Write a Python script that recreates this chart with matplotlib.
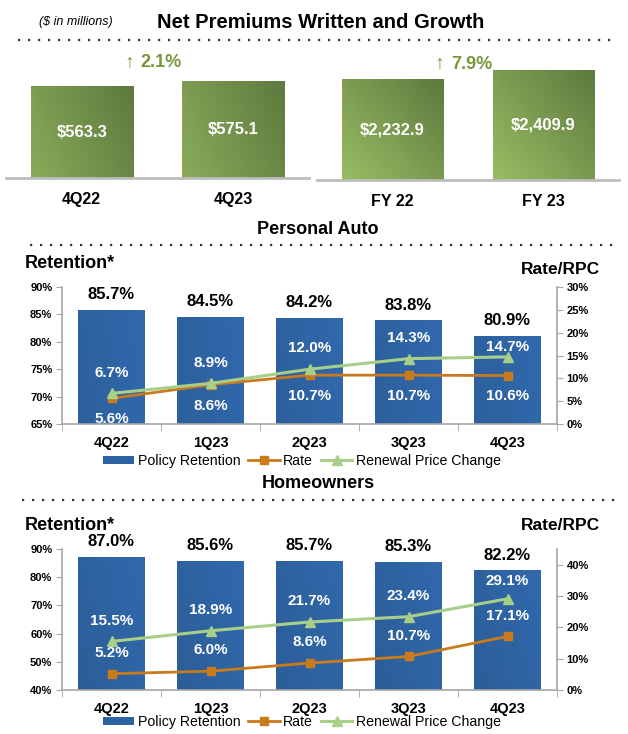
import matplotlib

matplotlib.use("Agg")
import matplotlib.pyplot as plt
import numpy as np
from matplotlib.colors import LinearSegmentedColormap
from matplotlib.lines import Line2D
from matplotlib.patches import Patch
from matplotlib.ticker import FuncFormatter, MultipleLocator

plt.rcParams["font.family"] = ["Liberation Sans", "DejaVu Sans"]

# net premiums written ($ in millions)
npw_quarter_labels = ["4Q22", "4Q23"]
npw_quarter_values = [563.3, 575.1]
npw_quarter_growth = "2.1%"
npw_year_labels = ["FY 22", "FY 23"]
npw_year_values = [2232.9, 2409.9]
npw_year_growth = "7.9%"

# segment metrics (%)
periods = ["4Q22", "1Q23", "2Q23", "3Q23", "4Q23"]
auto_retention = [85.7, 84.5, 84.2, 83.8, 80.9]
auto_rate = [5.6, 8.6, 10.7, 10.7, 10.6]
auto_rpc = [6.7, 8.9, 12.0, 14.3, 14.7]
home_retention = [87.0, 85.6, 85.7, 85.3, 82.2]
home_rate = [5.2, 6.0, 8.6, 10.7, 17.1]
home_rpc = [15.5, 18.9, 21.7, 23.4, 29.1]

BLUE = "#2e63a3"
ORANGE = "#c97a1c"
LIGHT_GREEN = "#a8cf8a"
OLIVE = "#76983a"
GRAY = "#a6a6a6"

W, H = 628, 734
DPI = 100


def fxy(px, py):
    return px / W, 1 - py / H


def px_box(x0, y0, x1, y1):
    return [x0 / W, 1 - y1 / H, (x1 - x0) / W, (y1 - y0) / H]


def gradient_fill(ax, bars, c_low, c_high):
    # bottom-left -> top-right diagonal gradient
    cmap = LinearSegmentedColormap.from_list("grad", [c_low, c_high])
    grad = np.add.outer(np.linspace(1, 0, 64), np.linspace(0, 1, 64)) / 2
    for bar in bars:
        x0, y0 = bar.get_xy()
        ax.imshow(grad, cmap=cmap, extent=[x0, x0 + bar.get_width(), y0, y0 + bar.get_height()],
                  aspect="auto", origin="upper", zorder=1, interpolation="bilinear")
        bar.set_facecolor("none")


def draw_npw(ax, labels, values, ylim, growth):
    x = np.arange(len(values))
    bars = ax.bar(x, values, width=0.675, color="none", zorder=1)
    gradient_fill(ax, bars, "#9dc066", "#5e7a3e")
    ax.set_xlim(-0.5, len(values) - 0.5)
    ax.set_ylim(*ylim)
    for xi, v in zip(x, values):
        ax.text(xi, (ylim[0] + v) / 2, f"${v:,.1f}", ha="center", va="center",
                color="white", fontsize=12, fontweight="bold", zorder=3)
    for side in ["left", "right", "top"]:
        ax.spines[side].set_visible(False)
    ax.spines["bottom"].set_color("#bdbdbd")
    ax.spines["bottom"].set_linewidth(2)
    ax.set_yticks([])
    ax.set_xticks(x, labels)
    ax.tick_params(axis="x", length=0, pad=10, labelsize=11.5)
    for t in ax.get_xticklabels():
        t.set_fontweight("bold")
    # growth label between the two bars: thin arrow + bold percentage
    mid = (x[0] + x[-1]) / 2
    tr = ax.get_xaxis_transform()
    ax.annotate("\u2191", (mid, 0.935), xycoords=tr, xytext=(-17, 0), textcoords="offset points",
                ha="right", va="center", color=OLIVE, fontsize=14)
    ax.annotate(growth, (mid, 0.935), xycoords=tr, xytext=(-12, 0), textcoords="offset points",
                ha="left", va="center", color=OLIVE, fontsize=13, fontweight="bold")


def draw_segment(ax, retention, rate, rpc, ret_lim, ret_step, rpc_lim, rpc_step, rate_above):
    x = np.arange(len(periods))
    bars = ax.bar(x, retention, width=0.67, color="none", zorder=1)
    gradient_fill(ax, bars, "#2a5a91", "#3169ad")
    ax.set_xlim(-0.5, len(periods) - 0.5)
    ax.set_ylim(*ret_lim)
    ax.yaxis.set_major_locator(MultipleLocator(ret_step))
    ax.yaxis.set_major_formatter(FuncFormatter(lambda v, p: f"{v:.0f}%"))
    for xi, v in zip(x, retention):
        ax.annotate(f"{v:.1f}%", (xi, v), xytext=(0, 11.5), textcoords="offset points",
                    ha="center", va="center", fontsize=12, fontweight="bold")

    ax.set_xticks(x, periods)
    ax.set_xticks(np.arange(-0.5, len(periods)), minor=True)
    ax.tick_params(axis="x", which="major", length=0, pad=9, labelsize=10.5)
    ax.tick_params(axis="x", which="minor", length=5, color=GRAY, direction="out")
    ax.tick_params(axis="y", length=4, color=GRAY, pad=3, labelsize=8)
    for t in ax.get_xticklabels() + ax.get_yticklabels():
        t.set_fontweight("bold")
    for side in ["top", "right"]:
        ax.spines[side].set_visible(False)
    for side in ["left", "bottom"]:
        ax.spines[side].set_color(GRAY)
        ax.spines[side].set_linewidth(1.2)

    ax2 = ax.twinx()
    ax2.plot(x, rate, color=ORANGE, lw=2, marker="s", ms=6, zorder=3)
    ax2.plot(x, rpc, color=LIGHT_GREEN, lw=2.2, marker="^", ms=7, zorder=3)
    ax2.set_ylim(*rpc_lim)
    ax2.yaxis.set_major_locator(MultipleLocator(rpc_step))
    ax2.yaxis.set_major_formatter(FuncFormatter(lambda v, p: f"{v:.0f}%"))
    ax2.tick_params(axis="y", length=4, color=GRAY, pad=3, labelsize=8)
    for t in ax2.get_yticklabels():
        t.set_fontweight("bold")
    for side in ["top", "left", "bottom"]:
        ax2.spines[side].set_visible(False)
    ax2.spines["right"].set_color(GRAY)
    ax2.spines["right"].set_linewidth(1.2)

    def label_offset(xi, v, base, bar_top):
        # keep white labels inside the bar
        if base <= 0:
            return base
        y_mark = ax2.transData.transform((xi, v))[1]
        y_top = ax.transData.transform((xi, bar_top))[1]
        room = (y_top - y_mark) * 72 / DPI - 7
        return min(base, room)

    rate_dy = 15 if rate_above else -15
    for xi, v, r in zip(x, rate, retention):
        ax2.annotate(f"{v:.1f}%", (xi, v), xytext=(0, label_offset(xi, v, rate_dy, r)),
                     textcoords="offset points", ha="center", va="center",
                     color="white", fontsize=11, fontweight="bold")
    for xi, v, r in zip(x, rpc, retention):
        ax2.annotate(f"{v:.1f}%", (xi, v), xytext=(0, label_offset(xi, v, 15, r)),
                     textcoords="offset points", ha="center", va="center",
                     color="white", fontsize=11, fontweight="bold")


def add_dotted(fig, x0, x1, py):
    (ax0, y), (ax1, _) = fxy(x0, py), fxy(x1, py)
    fig.add_artist(Line2D([ax0, ax1], [y, y], color="#333333", lw=1.6, linestyle=(0, (1, 3.5))))


def add_legend(fig, py):
    handles = [
        Patch(facecolor=BLUE),
        Line2D([], [], color=ORANGE, lw=2, marker="s", ms=6),
        Line2D([], [], color=LIGHT_GREEN, lw=2.2, marker="^", ms=7),
    ]
    fig.legend(handles, ["Policy Retention", "Rate", "Renewal Price Change"], loc="center",
               bbox_to_anchor=fxy(302, py), ncol=3, frameon=False, fontsize=10.2,
               handlelength=2.2, handleheight=0.5, handletextpad=0.27, columnspacing=0.55,
               numpoints=1, borderpad=0.2)


fig = plt.figure(figsize=(W / DPI, H / DPI), dpi=DPI)

# header
fig.text(*fxy(321, 22), "Net Premiums Written and Growth", ha="center", va="center",
         fontsize=14.5, fontweight="bold")
fig.text(*fxy(76, 22), "($ in millions)", ha="center", va="center", fontsize=9, style="italic")
add_dotted(fig, 18, 615, 40)

ax_q = fig.add_axes(px_box(6, 55, 309, 178))
draw_npw(ax_q, npw_quarter_labels, npw_quarter_values, (346, 638), npw_quarter_growth)
ax_y = fig.add_axes(px_box(317, 56, 619, 180))
draw_npw(ax_y, npw_year_labels, npw_year_values, (245, 2686), npw_year_growth)

# personal auto
fig.text(*fxy(318, 229), "Personal Auto", ha="center", va="center", fontsize=13, fontweight="bold")
add_dotted(fig, 30, 615, 245)
fig.text(*fxy(25, 263), "Retention*", ha="left", va="center", fontsize=13, fontweight="bold")
fig.text(*fxy(600, 270), "Rate/RPC", ha="right", va="center", fontsize=12.5, fontweight="bold")
ax_auto = fig.add_axes(px_box(62, 287, 557, 424))
draw_segment(ax_auto, auto_retention, auto_rate, auto_rpc, (65, 90), 5, (0, 30), 5, False)
add_legend(fig, 461)

# homeowners
fig.text(*fxy(318, 484), "Homeowners", ha="center", va="center", fontsize=13, fontweight="bold")
add_dotted(fig, 22, 615, 500)
fig.text(*fxy(25, 525), "Retention*", ha="left", va="center", fontsize=13, fontweight="bold")
fig.text(*fxy(600, 525), "Rate/RPC", ha="right", va="center", fontsize=12.5, fontweight="bold")
ax_home = fig.add_axes(px_box(62, 549, 557, 690))
draw_segment(ax_home, home_retention, home_rate, home_rpc, (40, 90), 10, (0, 45), 10, True)
add_legend(fig, 722)

fig.savefig("out.png", dpi=DPI)
plt.close(fig)
